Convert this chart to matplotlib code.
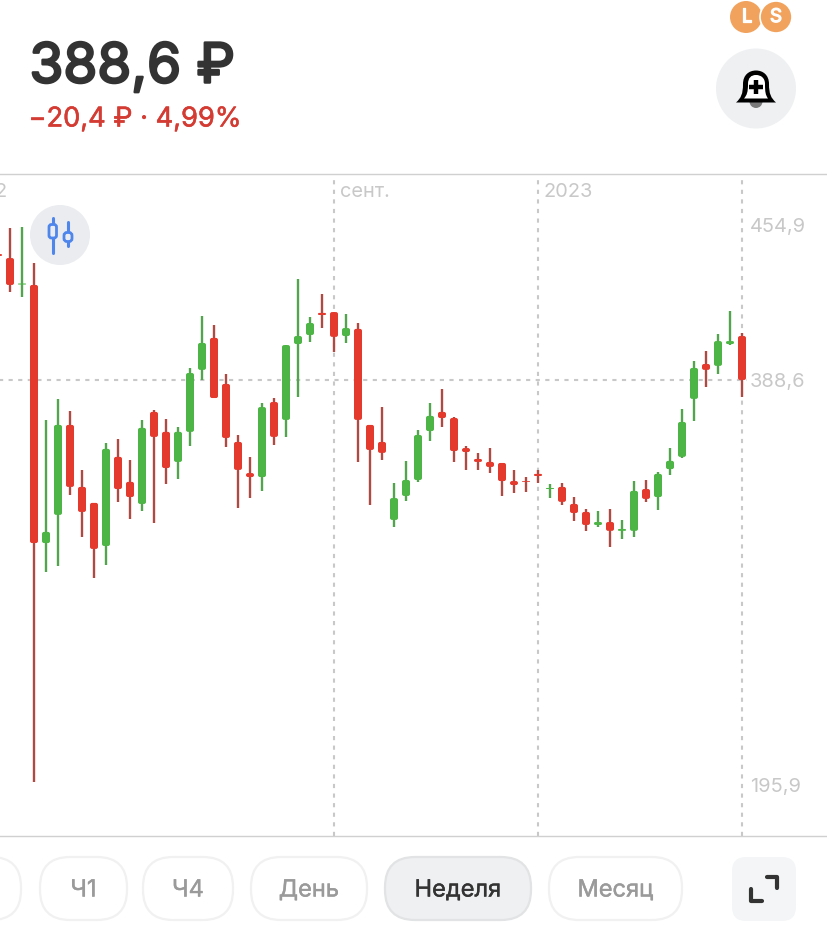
import matplotlib
matplotlib.use("Agg")
import matplotlib.pyplot as plt
import matplotlib.patheffects as pe
from matplotlib.patches import Circle, FancyBboxPatch, PathPatch
from matplotlib.path import Path

plt.rcParams['font.family'] = ['Inter', 'DejaVu Sans']

# DATA (weekly candles, one per week, first one is cut by the left edge)
opens = [
    448.5, 446.6, 434.0, 433.8, 311.0, 324.4, 367.2, 337.7, 330.1, 309.6,
    352.0, 340.1, 329.6, 373.4, 363.9, 349.6, 363.9, 393.4, 408.6, 386.7,
    359.1, 344.3, 342.4, 378.1, 369.6, 405.7, 410.0, 420.5, 420.9, 409.5,
    412.9, 367.2, 359.1, 322.0, 333.4, 341.0, 364.3, 373.4, 370.5, 356.2,
    351.0, 349.6, 349.1, 340.5, 340.5, 343.9, 336.7, 337.7, 329.6, 325.8,
    319.6, 321.0, 316.8, 316.8, 336.7, 332.9, 346.2, 352.0, 379.6, 396.2,
    395.3, 405.7, 409.5,
]
closes = [
    447.6, 433.8, 434.5, 311.0, 316.3, 367.2, 337.7, 325.8, 308.2, 355.8,
    336.7, 332.9, 365.8, 361.5, 346.7, 363.9, 391.9, 406.2, 380.0, 361.0,
    345.8, 342.4, 375.7, 361.5, 405.2, 409.5, 415.7, 419.5, 409.1, 413.3,
    369.6, 355.3, 353.9, 332.4, 341.0, 362.4, 371.5, 370.5, 354.8, 354.3,
    349.6, 347.2, 340.5, 338.6, 340.1, 342.9, 337.2, 330.6, 325.3, 319.6,
    321.0, 316.8, 317.7, 335.8, 332.0, 343.9, 350.1, 368.6, 394.3, 393.4,
    407.1, 407.1, 388.6,
]
highs = [
    450.4, 460.9, 461.4, 444.3, 369.6, 379.6, 373.9, 345.8, 330.1, 358.6,
    360.5, 350.5, 369.6, 374.3, 370.0, 366.2, 394.3, 419.0, 414.8, 391.4,
    362.4, 352.0, 377.6, 380.0, 405.2, 436.7, 418.6, 429.5, 420.9, 420.0,
    415.7, 367.2, 375.7, 339.6, 350.1, 364.8, 377.6, 384.3, 371.0, 357.2,
    353.9, 356.2, 349.1, 345.8, 342.4, 345.8, 339.1, 339.6, 332.9, 327.2,
    326.3, 327.2, 322.0, 340.5, 341.0, 344.8, 356.2, 374.8, 397.6, 402.4,
    410.5, 421.4, 411.0,
]
lows = [
    446.6, 430.5, 428.1, 197.3, 297.2, 300.1, 333.9, 313.9, 294.4, 300.6,
    330.6, 322.5, 326.3, 320.6, 339.1, 341.5, 357.2, 388.6, 380.0, 356.7,
    327.7, 332.4, 335.8, 357.7, 361.5, 380.5, 406.7, 413.3, 401.9, 406.2,
    349.6, 329.1, 350.5, 318.7, 331.0, 340.1, 359.6, 366.2, 349.6, 345.8,
    345.8, 344.3, 333.4, 334.8, 335.3, 339.6, 332.4, 329.1, 321.5, 316.8,
    318.7, 309.1, 312.9, 313.9, 330.6, 326.7, 343.4, 351.5, 369.1, 385.3,
    391.4, 405.2, 380.5,
]
first_week = -1
last_price = 388.6
grid_weeks = [27, 44, 61]

date_labels = ["2022", "сент.", "2023"]
price_labels = ["454,9", "388,6", "195,9"]
price_text = "388,6 ₽"
change_text = "−20,4 ₽ · 4,99%"
periods = ["", "Ч1", "Ч4", "День", "Неделя", "Месяц"]
active_period = "Неделя"

# COLOURS
RED = "#E43A2E"
RED_WICK = "#AD4A44"
GREEN = "#4DB545"
GREEN_WICK = "#52A54C"
GRID = "#C8C8C8"
LABEL = "#C8C8C8"
DARK = "#333333"
BUTTON = "#EEF0F2"
ORANGE = "#F1A35E"
ICON = "#4F86EC"
ICON_BG = "#EAECEF"

W, H = 828, 946
fig = plt.figure(figsize=(W / 100, H / 100), dpi=100, facecolor="white")

# CHART
ax = fig.add_axes([0, (H - 836) / H, 1, (836 - 174) / H])
ax.set_xlim(-10 / 12, 818 / 12)
ax.set_ylim(171.6, 486.6)
ax.set_xticks([])
ax.set_yticks([])
for side in ["left", "right"]:
    ax.spines[side].set_visible(False)
for side in ["top", "bottom"]:
    ax.spines[side].set_color("#D0D0D0")
    ax.spines[side].set_linewidth(1.0)

for week in grid_weeks:
    ax.axvline(week, color=GRID, lw=1.5, dashes=(2.0, 2.6), zorder=1)
ax.hlines(last_price, -1, grid_weeks[-1] + 0.45, color=GRID, lw=1.5,
          linestyles=[(0, (2.0, 2.6))], zorder=1)

body_w = 8 / 12
aspect = 5.71
for i in range(len(opens)):
    week = first_week + i
    up = closes[i] > opens[i]
    ax.vlines(week, lows[i], highs[i], color=GREEN_WICK if up else RED_WICK,
              lw=1.7, zorder=2)
    bottom = min(opens[i], closes[i])
    height = abs(opens[i] - closes[i])
    rounding = min(2 / 12, height / (2 * aspect))
    ax.add_patch(FancyBboxPatch(
        (week - body_w / 2, bottom), body_w, height,
        boxstyle=f"round,pad=0,rounding_size={rounding}",
        mutation_aspect=aspect, fc=GREEN if up else RED, ec="none", zorder=3))

# OVERLAY (header, labels and buttons, in screen pixels)
ui = fig.add_axes([0, 0, 1, 1])
ui.set_xlim(0, W)
ui.set_ylim(H, 0)
ui.axis("off")
ui.patch.set_alpha(0)


def heavy(width, color):
    return [pe.withStroke(linewidth=width, foreground=color)]


ui.text(29.5, 82.5, price_text, fontsize=39.5, color=DARK, va="baseline",
        path_effects=heavy(1.8, DARK))
ui.text(28.5, 126.5, change_text, fontsize=19.6, color="#D43C33", va="baseline",
        path_effects=heavy(0.4, "#D43C33"))

for label, x in zip(date_labels, [-42, 340, 544]):
    ui.text(x, 192, label, fontsize=14.4, color=LABEL, va="center")
for label, y in zip(price_labels, [227, 382, 787]):
    ui.text(750, y, label, fontsize=14.4, color=LABEL, va="center")

# L / S badges
ui.add_patch(Circle((746, 17), 16, fc=ORANGE, ec="none"))
ui.add_patch(Circle((776, 17), 16, fc=ORANGE, ec="white", lw=1.2))
ui.text(747, 17.5, "L", fontsize=13.5, color="white", ha="center", va="center",
        path_effects=heavy(0.9, "white"))
ui.text(776, 17.5, "S", fontsize=13.5, color="white", ha="center", va="center",
        path_effects=heavy(0.9, "white"))

# bell button
ui.add_patch(Circle((756, 88.5), 40, fc=BUTTON, ec="none"))
ui.add_patch(Circle((756, 101.5), 6.5, fc="#7A7A7A", ec="none"))
C = Path.CURVE4
L = Path.LINETO
bell_outer = Path(
    [(736, 102.5), (741, 98), (743, 94), (743, 84), (743, 75), (749, 70.5), (756, 70.5),
     (763, 70.5), (769, 75), (769, 84), (769, 94), (771, 98), (776, 102.5), (736, 102.5)],
    [Path.MOVETO, C, C, L, C, C, C, C, C, L, C, C, L, Path.CLOSEPOLY])
bell_inner = Path(
    [(744, 98.5), (747, 95), (748, 92), (748, 84), (748, 78), (751, 75), (756, 75),
     (761, 75), (765, 78), (765, 84), (765, 92), (765.5, 95), (768, 98.5), (744, 98.5)],
    [Path.MOVETO, C, C, L, C, C, C, C, C, L, C, C, L, Path.CLOSEPOLY])
ui.add_patch(PathPatch(bell_outer, fc="black", ec="none"))
ui.add_patch(PathPatch(bell_inner, fc="white", ec="none"))
ui.plot([756, 756], [80, 94], color="black", lw=3.2, solid_capstyle="butt")
ui.plot([749, 763], [87, 87], color="black", lw=3.2, solid_capstyle="butt")

# candle type button
ui.add_patch(Circle((60, 235), 30, fc=ICON_BG, ec="none"))
ui.plot([52.7, 52.7], [218, 253], color=ICON, lw=2.2, solid_capstyle="round", zorder=2)
ui.add_patch(FancyBboxPatch((49, 224.5), 7.5, 13.5, boxstyle="round,pad=0,rounding_size=2.5",
                            fc=ICON_BG, ec=ICON, lw=2.0, zorder=3))
ui.plot([68, 68], [222, 246], color=ICON, lw=2.2, solid_capstyle="round", zorder=2)
ui.add_patch(FancyBboxPatch((64, 232.5), 8, 9, boxstyle="round,pad=0,rounding_size=3",
                            fc=ICON_BG, ec=ICON, lw=2.0, zorder=3))

# period buttons
pills = [(-60, 21), (40, 127), (143, 233), (251, 367), (385, 531), (549, 682)]
for label, (x0, x1) in zip(periods, pills):
    active = label == active_period
    ui.add_patch(FancyBboxPatch(
        (x0, 857), x1 - x0, 63, boxstyle="round,pad=0,rounding_size=30",
        fc=BUTTON if active else "white", ec="#E2E3E4" if active else "#F1F1F1", lw=1.6))
    color = DARK if active else "#9A9A9A"
    ui.text((x0 + x1) / 2, 890.5, label, fontsize=17, color=color, ha="center", va="center",
            path_effects=heavy(0.3, color))

# expand button
ui.add_patch(FancyBboxPatch((732, 857), 64, 64, boxstyle="round,pad=0,rounding_size=14",
                            fc="#F3F5F6", ec="none"))
ui.plot([767, 777.5, 777.5], [877, 877, 888], color=DARK, lw=3, solid_joinstyle="round",
        solid_capstyle="round")
ui.plot([751.5, 751.5, 762], [889, 901, 901], color=DARK, lw=3, solid_joinstyle="round",
        solid_capstyle="round")

fig.savefig("out.png", dpi=100, facecolor="white")
